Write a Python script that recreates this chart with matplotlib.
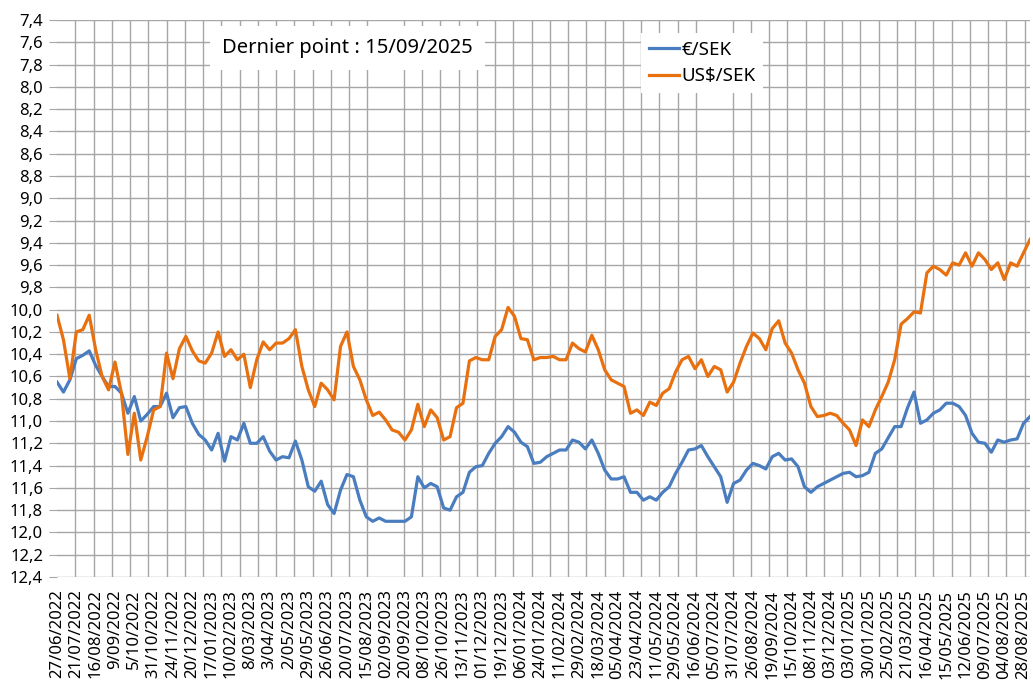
import numpy as np
import matplotlib
matplotlib.use('Agg')
from matplotlib import pyplot as plt

# one stored reading every 6 trading days, oldest first
STEP = 6
LABEL_EVERY = 18
GRID_EVERY = 17

DATE_LABELS = [
    '27/06/2022', '21/07/2022', '16/08/2022', '9/09/2022', '5/10/2022', '31/10/2022',
    '24/11/2022', '20/12/2022', '17/01/2023', '10/02/2023', '8/03/2023', '3/04/2023',
    '2/05/2023', '29/05/2023', '26/06/2023', '20/07/2023', '15/08/2023', '02/09/2023',
    '20/09/2023', '08/10/2023', '26/10/2023', '13/11/2023', '01/12/2023', '19/12/2023',
    '06/01/2024', '24/01/2024', '11/02/2024', '29/02/2024', '18/03/2024', '05/04/2024',
    '23/04/2024', '11/05/2024', '29/05/2024', '16/06/2024', '05/07/2024', '31/07/2024',
    '26/08/2024', '19/09/2024', '15/10/2024', '08/11/2024', '03/12/2024', '03/01/2025',
    '30/01/2025', '25/02/2025', '21/03/2025', '16/04/2025', '15/05/2025', '12/06/2025',
    '09/07/2025', '04/08/2025', '28/08/2025',
]

EUR_SEK = [
    10.65, 10.74, 10.63, 10.44, 10.41, 10.37, 10.50, 10.60, 10.69, 10.69,
    10.75, 10.93, 10.78, 11.00, 10.94, 10.87, 10.87, 10.75, 10.97, 10.88,
    10.87, 11.02, 11.12, 11.17, 11.26, 11.11, 11.36, 11.14, 11.17, 11.02,
    11.20, 11.20, 11.14, 11.27, 11.35, 11.32, 11.33, 11.18, 11.35, 11.59,
    11.63, 11.54, 11.75, 11.83, 11.62, 11.48, 11.50, 11.71, 11.86, 11.90,
    11.87, 11.90, 11.90, 11.90, 11.90, 11.86, 11.50, 11.60, 11.56, 11.59,
    11.78, 11.80, 11.68, 11.64, 11.46, 11.41, 11.40, 11.29, 11.20, 11.14,
    11.05, 11.10, 11.19, 11.23, 11.38, 11.37, 11.32, 11.29, 11.26, 11.26,
    11.17, 11.19, 11.25, 11.17, 11.29, 11.44, 11.52, 11.52, 11.50, 11.64,
    11.64, 11.71, 11.68, 11.71, 11.64, 11.59, 11.47, 11.37, 11.26, 11.25,
    11.22, 11.32, 11.41, 11.50, 11.73, 11.56, 11.53, 11.44, 11.38, 11.40,
    11.43, 11.32, 11.29, 11.35, 11.34, 11.41, 11.59, 11.64, 11.59, 11.56,
    11.53, 11.50, 11.47, 11.46, 11.50, 11.49, 11.46, 11.29, 11.25, 11.15,
    11.05, 11.05, 10.88, 10.74, 11.02, 10.99, 10.93, 10.90, 10.84, 10.84,
    10.87, 10.95, 11.11, 11.19, 11.20, 11.28, 11.17, 11.19, 11.17, 11.16,
    11.02, 10.96,
]

USD_SEK = [
    10.05, 10.27, 10.62, 10.20, 10.18, 10.05, 10.36, 10.60, 10.72, 10.47,
    10.75, 11.30, 10.93, 11.35, 11.14, 10.90, 10.87, 10.39, 10.62, 10.35,
    10.24, 10.37, 10.46, 10.48, 10.39, 10.20, 10.42, 10.36, 10.45, 10.40,
    10.70, 10.45, 10.29, 10.36, 10.30, 10.30, 10.26, 10.18, 10.51, 10.72,
    10.87, 10.66, 10.72, 10.81, 10.33, 10.20, 10.51, 10.63, 10.81, 10.95,
    10.92, 10.99, 11.08, 11.10, 11.17, 11.08, 10.85, 11.05, 10.90, 10.97,
    11.17, 11.14, 10.88, 10.84, 10.46, 10.43, 10.45, 10.45, 10.24, 10.18,
    9.98, 10.06, 10.26, 10.27, 10.45, 10.43, 10.43, 10.42, 10.45, 10.45,
    10.30, 10.35, 10.38, 10.23, 10.36, 10.54, 10.63, 10.66, 10.69, 10.93,
    10.90, 10.95, 10.83, 10.86, 10.75, 10.71, 10.56, 10.45, 10.42, 10.53,
    10.45, 10.60, 10.51, 10.54, 10.74, 10.65, 10.48, 10.33, 10.21, 10.26,
    10.36, 10.17, 10.10, 10.30, 10.39, 10.54, 10.66, 10.87, 10.96, 10.95,
    10.93, 10.95, 11.02, 11.08, 11.22, 10.99, 11.05, 10.90, 10.78, 10.65,
    10.45, 10.13, 10.08, 10.02, 10.03, 9.67, 9.61, 9.64, 9.69, 9.58,
    9.60, 9.49, 9.61, 9.49, 9.55, 9.64, 9.58, 9.73, 9.58, 9.61,
    9.49, 9.37,
]

Y_TICKS = [round(7.4 + 0.2 * i, 1) for i in range(26)]

W, H = 1033, 682
GRID_COLOR = '#a6a6a6'


def draw_chart():
    plt.rcParams['font.family'] = ['Noto Sans', 'DejaVu Sans']
    fig = plt.figure(figsize=(W / 100, H / 100), dpi=100)
    ax = fig.add_axes([57 / W, (H - 577) / H, 973 / W, 557 / H])

    x = np.arange(len(EUR_SEK)) * STEP
    ax.plot(x, EUR_SEK, color='#4a7dbf', lw=2.3, label='€/SEK', zorder=3)
    ax.plot(x, USD_SEK, color='#e8700f', lw=2.3, label='US$/SEK', zorder=3)

    ax.set_xlim(0, x[-1])
    ax.set_ylim(12.4, 7.4)

    ax.set_yticks(Y_TICKS)
    ax.set_yticklabels([f'{v:.1f}'.replace('.', ',') for v in Y_TICKS], fontsize=12)
    ax.tick_params(axis='y', length=6, color=GRID_COLOR, pad=4)

    ax.set_xticks(np.arange(len(DATE_LABELS)) * LABEL_EVERY)
    ax.set_xticklabels(DATE_LABELS, rotation=90, fontsize=12)
    ax.set_xticks(np.arange(0, x[-1] + 1, GRID_EVERY), minor=True)
    ax.tick_params(axis='x', which='both', length=0, pad=9)

    ax.grid(True, axis='y', which='major', color=GRID_COLOR, lw=1)
    ax.grid(True, axis='x', which='minor', color=GRID_COLOR, lw=1)
    for s in ax.spines.values():
        s.set_visible(False)

    ax.text(222 / W, 1 - 48 / H, 'Dernier point : 15/09/2025', transform=fig.transFigure,
            fontsize=14.5, va='center', ha='left', zorder=5,
            bbox=dict(boxstyle='square,pad=0.6', fc='white', ec='none'))

    leg = ax.legend(loc='upper left', bbox_to_anchor=(632 / W, 1 - 24 / H),
                    bbox_transform=fig.transFigure, fontsize=13.5, frameon=True,
                    fancybox=False, handlelength=1.6, handletextpad=0.15,
                    labelspacing=0.45, borderpad=0.4)
    leg.get_frame().set_edgecolor('none')
    leg.get_frame().set_facecolor('white')
    leg.get_frame().set_alpha(1)
    leg.set_zorder(5)

    fig.savefig('out.png', dpi=100)


if __name__ == '__main__':
    draw_chart()
